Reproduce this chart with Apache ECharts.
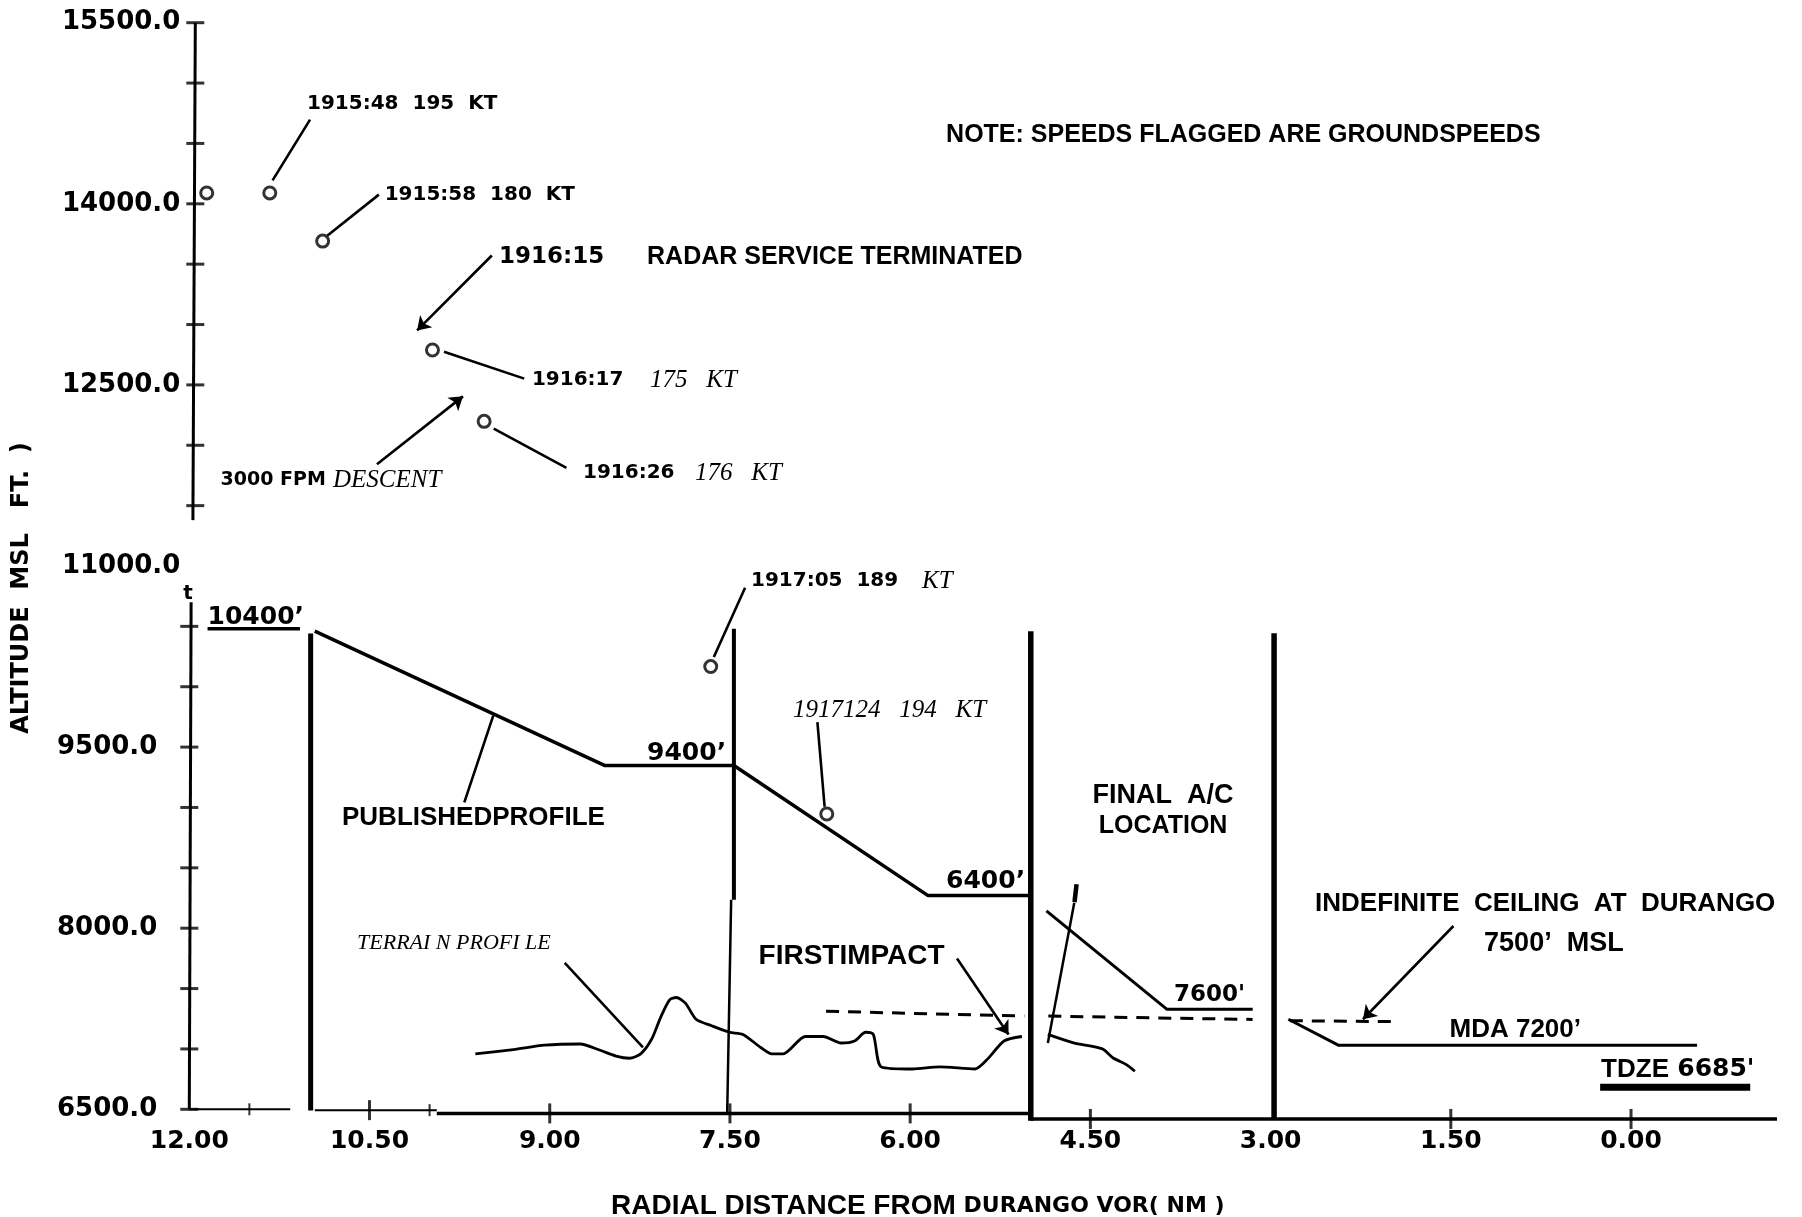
<!DOCTYPE html>
<html><head><meta charset="utf-8">
<script src="https://cdn.jsdelivr.net/npm/echarts@6/dist/echarts.min.js"></script>
<style>html,body{margin:0;padding:0;background:#fff}#c{width:1802px;height:1217px}</style>
</head><body><div id="c"></div>
<script>
// ---------------- axis ticks / labels ----------------
const xTickLabels = [12, 10.5, 9, 7.5, 6, 4.5, 3, 1.5, 0];
const yTickLabels = [6500, 8000, 9500, 11000, 12500, 14000, 15500];
const xMajorTicks = [10.5, 9, 7.5, 6, 4.5, 1.5, 0];
const xMinorTicks = [11.5, 10];
const yTicksUpper = [15500, 15000, 14500, 14000, 13500, 13000, 12500, 12000, 11500];
const yTicksLower = [10500, 10000, 9500, 9000, 8500, 8000, 7500, 7000, 6500];

// hand-drawn axis pieces (nm, ft)
const yAxisUpper = [[11.95, 15500], [11.97, 11380]];
const yAxisLower = [[11.985, 10700], [12.0, 6500]];
const xAxisSeg1 = [[12.0, 6500], [11.16, 6500]];
const xAxisSeg2 = [[10.955, 6493], [9.94, 6493]];
const xAxisSeg3 = [[9.94, 6466], [5.0, 6466]];
const xAxisSeg4 = [[5.0, 6420], [-1.215, 6420]];

// ---------------- profiles ----------------
const initialLevel = [[11.848, 10480], [11.079, 10480]];
const publishedProfile = [[10.956, 10461], [8.54, 9347], [7.467, 9347], [5.851, 8270], [4.996, 8270]];
const finalProfile = [[4.866, 8144], [3.862, 7328], [3.149, 7328]];
const mdaProfile = [[2.852, 7246], [2.437, 7031], [-0.55, 7031]];
const tdzeBar = [[0.257, 6682], [-0.992, 6682]];
const terrainWest = [[9.619, 6959], [9.302, 6995], [9.043, 7031], [8.745, 7041], [8.596, 6995], [8.448, 6941],
  [8.336, 6923], [8.243, 6959], [8.150, 7084], [8.076, 7264], [8.002, 7407], [7.946, 7426], [7.871, 7379],
  [7.782, 7246], [7.653, 7192], [7.504, 7138], [7.392, 7120], [7.244, 7012], [7.151, 6959], [7.058, 6959],
  [6.872, 7103], [6.724, 7103], [6.575, 7049], [6.463, 7066], [6.371, 7138], [6.307, 7120], [6.240, 6851],
  [5.980, 6834], [5.757, 6851], [5.460, 6834], [5.349, 6923], [5.219, 7066], [5.070, 7103]];
const terrainEast = [[4.854, 7120], [4.64, 7050], [4.40, 7000], [4.31, 6925], [4.20, 6870], [4.13, 6815]];
const ceilingWest = [[6.70, 7312], [5.05, 7272]];
const ceilingMid = [[4.85, 7272], [3.15, 7244]];
const ceilingEast = [[2.84, 7234], [1.94, 7226]];
const aircraftTrack = [[4.854, 7049], [4.634, 8210]];
const aircraftTop = [[4.632, 8216], [4.615, 8365]];

// vertical fix lines
const fix11 = [[10.99, 10440], [10.99, 6490]];
const fix75Upper = [[7.467, 10480], [7.467, 8235]];
const fix75Lower = [[7.49, 8235], [7.523, 6466]];
const fix5 = [[4.996, 10460], [4.996, 6405]];
const fix3 = [[2.971, 10443], [2.971, 6420]];

// radar returns
const radarFixes = [[11.855, 14090], [11.33, 14090], [10.89, 13691], [9.976, 12789], [9.546, 12198], [7.66, 10167], [6.694, 8946]];

// leader lines
const leaders = [
  [[11.307, 14194], [10.995, 14697]],
  [[10.852, 13736], [10.422, 14076]],
  [[9.880, 12774], [9.212, 12552]],
  [[9.466, 12138], [8.861, 11812]],
  [[9.470, 9761], [9.711, 9042]],
  [[7.634, 10246], [7.374, 10820]],
  [[6.712, 9006], [6.772, 9707]],
  [[8.875, 7713], [8.224, 7012]]
];
const arrows = [
  [[9.482, 13572], [10.104, 12951]],
  [[10.438, 11842], [9.722, 12405]],
  [[5.610, 7749], [5.181, 7120]],
  [[1.478, 8018], [2.231, 7246]]
];

// ---------------- annotation texts (anchor in nm, ft) ----------------
const timeLabels = [
  ['1915:48  195  KT', [11.02, 14827]],
  ['1915:58  180  KT', [10.374, 14076]],
  ['1916:17', [9.148, 12540]],
  ['1916:26', [8.723, 11770]],
  ['1917:05  189', [7.325, 10876]],
  ['t', [12.05, 10768]]
];
const fpmLabel = [['3000 FPM', [11.74, 11712]]];
const bigTimeLabels = [['1916:15', [9.422, 13559]], ["7600'", [3.804, 7446]]];
const serifLabels = [
  ['175   KT', [8.165, 12540]],
  ['176   KT', [7.791, 11770]],
  ['DESCENT', [10.804, 11712]],
  ['KT', [5.901, 10876]],
  ['1917124   194   KT', [6.975, 9807]]
];
const terrainLabel = [['TERRAI N PROFI LE', [10.604, 7875]]];
const altitudeLabels = [
  ['10400’', [11.848, 10575]],
  ['9400’', [8.19, 9447]],
  ['6400’', [5.701, 8387]],
  ["6685'", [-0.385, 6830]]
];
const sansLabels = [
  ['PUBLISHEDPROFILE', [10.729, 8917]],
  ['INDEFINITE  CEILING  AT  DURANGO', [2.630, 8200]],
  ['MDA 7200’', [1.511, 7157]],
  ['TDZE', [0.249, 6830]]
];
const mslLabel = [['7500’  MSL', [1.223, 7875]]];
const impactLabel = [['FIRSTIMPACT', [7.262, 7767]]];
const noteLabels = [
  ['NOTE: SPEEDS FLAGGED ARE GROUNDSPEEDS', [5.701, 14570]],
  ['RADAR SERVICE TERMINATED', [8.19, 13559]]
];
const finalLabel = [['FINAL  A/C', [3.895, 9095]]];
const locationLabel = [['LOCATION', [3.895, 8846]]];

// ---------------- styling helpers ----------------
const INK = '#000';
const SANS = "'Liberation Sans', Arial, Helvetica, sans-serif";
const MONO = "'DejaVu Sans', 'Liberation Sans', sans-serif";
const SERIF = "'Liberation Serif', 'Times New Roman', serif";

function path(data, width, extra) {
  return Object.assign({
    type: 'line', data: data, symbol: 'none', showSymbol: false, clip: false, silent: true,
    animation: false, z: 3,
    lineStyle: { color: INK, width: width, cap: 'butt', join: 'round' },
    emphasis: { disabled: true }
  }, extra || {});
}
function ticks(data, size) {
  return {
    type: 'scatter', data: data, symbol: 'rect', symbolSize: size, clip: false, silent: true,
    itemStyle: { color: INK }, z: 4, animation: false, emphasis: { disabled: true }
  };
}
function notes(items, font, centered) {
  return {
    type: 'custom', silent: true, animation: false, z: 6, clip: false,
    data: items.map(d => d[1]),
    encode: { x: 0, y: 1 },
    renderItem: function (params, api) {
      const d = items[params.dataIndex];
      const p = api.coord(d[1]);
      const al = centered ? 'center' : 'left';
      return {
        type: 'text', x: p[0], y: p[1], silent: true,
        style: Object.assign({
          text: d[0], fill: INK,
          textAlign: al, align: al, textVerticalAlign: 'middle', verticalAlign: 'middle'
        }, font)
      };
    }
  };
}
const xBaseline = x => x > 11.0 ? 6500 : x > 9.94 ? 6493 : x > 5.0 ? 6466 : 6420;

const series = [
  path(yAxisUpper, 3), path(yAxisLower, 3),
  path(xAxisSeg1, 2), path(xAxisSeg2, 2), path(xAxisSeg3, 3.5), path(xAxisSeg4, 3.5),
  ticks(yTicksUpper.map(v => [11.95, v]), [18, 3]),
  ticks(yTicksLower.map(v => [12.0, v]), [18, 3]),
  ticks(xMajorTicks.map(v => [v, xBaseline(v)]), [3, 20]),
  ticks(xMinorTicks.map(v => [v, xBaseline(v)]), [2, 12]),
  path(fix11, 5), path(fix75Upper, 4), path(fix75Lower, 2.5), path(fix5, 5.5), path(fix3, 5.5),
  path(initialLevel, 3.5), path(publishedProfile, 3.5), path(finalProfile, 3), path(mdaProfile, 3),
  path(tdzeBar, 7),
  path(terrainWest, 2.8, { smooth: 0.25 }), path(terrainEast, 2.8, { smooth: 0.25 }),
  path(ceilingWest, 3, { lineStyle: { color: INK, width: 3, type: [13, 9] } }),
  path(ceilingMid, 3, { lineStyle: { color: INK, width: 3, type: [13, 9] } }),
  path(ceilingEast, 3, { lineStyle: { color: INK, width: 3, type: [13, 9] } }),
  path(aircraftTrack, 2.5), path(aircraftTop, 4.5)
];
leaders.forEach((l, i) => {
  const s = path(l, 2.6);
  if (i === 0) {
    s.markLine = {
      silent: true, animation: false, symbol: ['none', 'arrow'], symbolSize: 13,
      label: { show: false }, emphasis: { disabled: true },
      lineStyle: { color: INK, width: 2.6, type: 'solid' },
      data: arrows.map(a => [{ coord: a[0] }, { coord: a[1] }])
    };
  }
  series.push(s);
});
series.push({
  type: 'scatter', data: radarFixes, symbol: 'circle', symbolSize: 12, clip: false, silent: true, z: 7,
  itemStyle: { color: '#fff', borderColor: INK, borderWidth: 3 }, animation: false, emphasis: { disabled: true }
});
series.push(notes(timeLabels, { fontFamily: MONO, fontWeight: 'bold', fontSize: 20 }));
series.push(notes(fpmLabel, { fontFamily: MONO, fontWeight: 'bold', fontSize: 19 }));
series.push(notes(bigTimeLabels, { fontFamily: MONO, fontWeight: 'bold', fontSize: 23 }));
series.push(notes(altitudeLabels, { fontFamily: MONO, fontWeight: 'bold', fontSize: 25 }));
series.push(notes(serifLabels, { fontFamily: SERIF, fontStyle: 'italic', fontSize: 25 }));
series.push(notes(terrainLabel, { fontFamily: SERIF, fontStyle: 'italic', fontSize: 22 }));
series.push(notes(sansLabels, { fontFamily: SANS, fontWeight: 'bold', fontSize: 26 }));
series.push(notes(mslLabel, { fontFamily: SANS, fontWeight: 'bold', fontSize: 27 }));
series.push(notes(impactLabel, { fontFamily: SANS, fontWeight: 'bold', fontSize: 28 }));
series.push(notes(noteLabels, { fontFamily: SANS, fontWeight: 'bold', fontSize: 25 }));
series.push(notes(finalLabel, { fontFamily: SANS, fontWeight: 'bold', fontSize: 27 }, true));
series.push(notes(locationLabel, { fontFamily: SANS, fontWeight: 'bold', fontSize: 25 }, true));

const chart = echarts.init(document.getElementById('c'), null, { width: 1802, height: 1217 });
chart.setOption({
  animation: false,
  backgroundColor: '#fff',
  title: {
    text: '{a|RADIAL DISTANCE FROM }{b|DURANGO VOR( NM )}',
    left: 611, top: 1192, padding: 0,
    textStyle: {
      rich: {
        a: { fontFamily: SANS, fontWeight: 'bold', fontSize: 28, color: INK },
        b: { fontFamily: MONO, fontWeight: 'bold', fontSize: 22, color: INK }
      }
    }
  },
  grid: { left: 189.3, right: 20.8, top: 22.7, bottom: 107.7, containLabel: false, outerBoundsMode: 'none' },
  xAxis: {
    type: 'value', inverse: true, min: -1.25, max: 12,
    axisLine: { show: false }, axisTick: { show: false }, splitLine: { show: false },
    axisLabel: {
      customValues: xTickLabels, formatter: v => v.toFixed(2), margin: 20,
      fontFamily: MONO, fontWeight: 'bold', fontSize: 25, color: INK
    }
  },
  yAxis: {
    type: 'value', min: 6500, max: 15500,
    name: 'ALTITUDE  MSL   FT.  )', nameLocation: 'middle', nameRotate: 90, nameGap: 156,
    nameTextStyle: { fontFamily: MONO, fontWeight: 'bold', fontSize: 24, color: INK, padding: [0, 44, 0, 0] },
    axisLine: { show: false }, axisTick: { show: false }, splitLine: { show: false },
    axisLabel: {
      customValues: yTickLabels, margin: 9,
      formatter: v => v >= 11000 ? v.toFixed(1) : '{lo|' + v.toFixed(1) + '}',
      fontFamily: MONO, fontWeight: 'bold', fontSize: 26, color: INK,
      rich: { lo: { fontFamily: MONO, fontWeight: 'bold', fontSize: 26, color: INK, padding: [0, 23, 0, 0] } }
    }
  },
  series: series
});
</script>
</body></html>
